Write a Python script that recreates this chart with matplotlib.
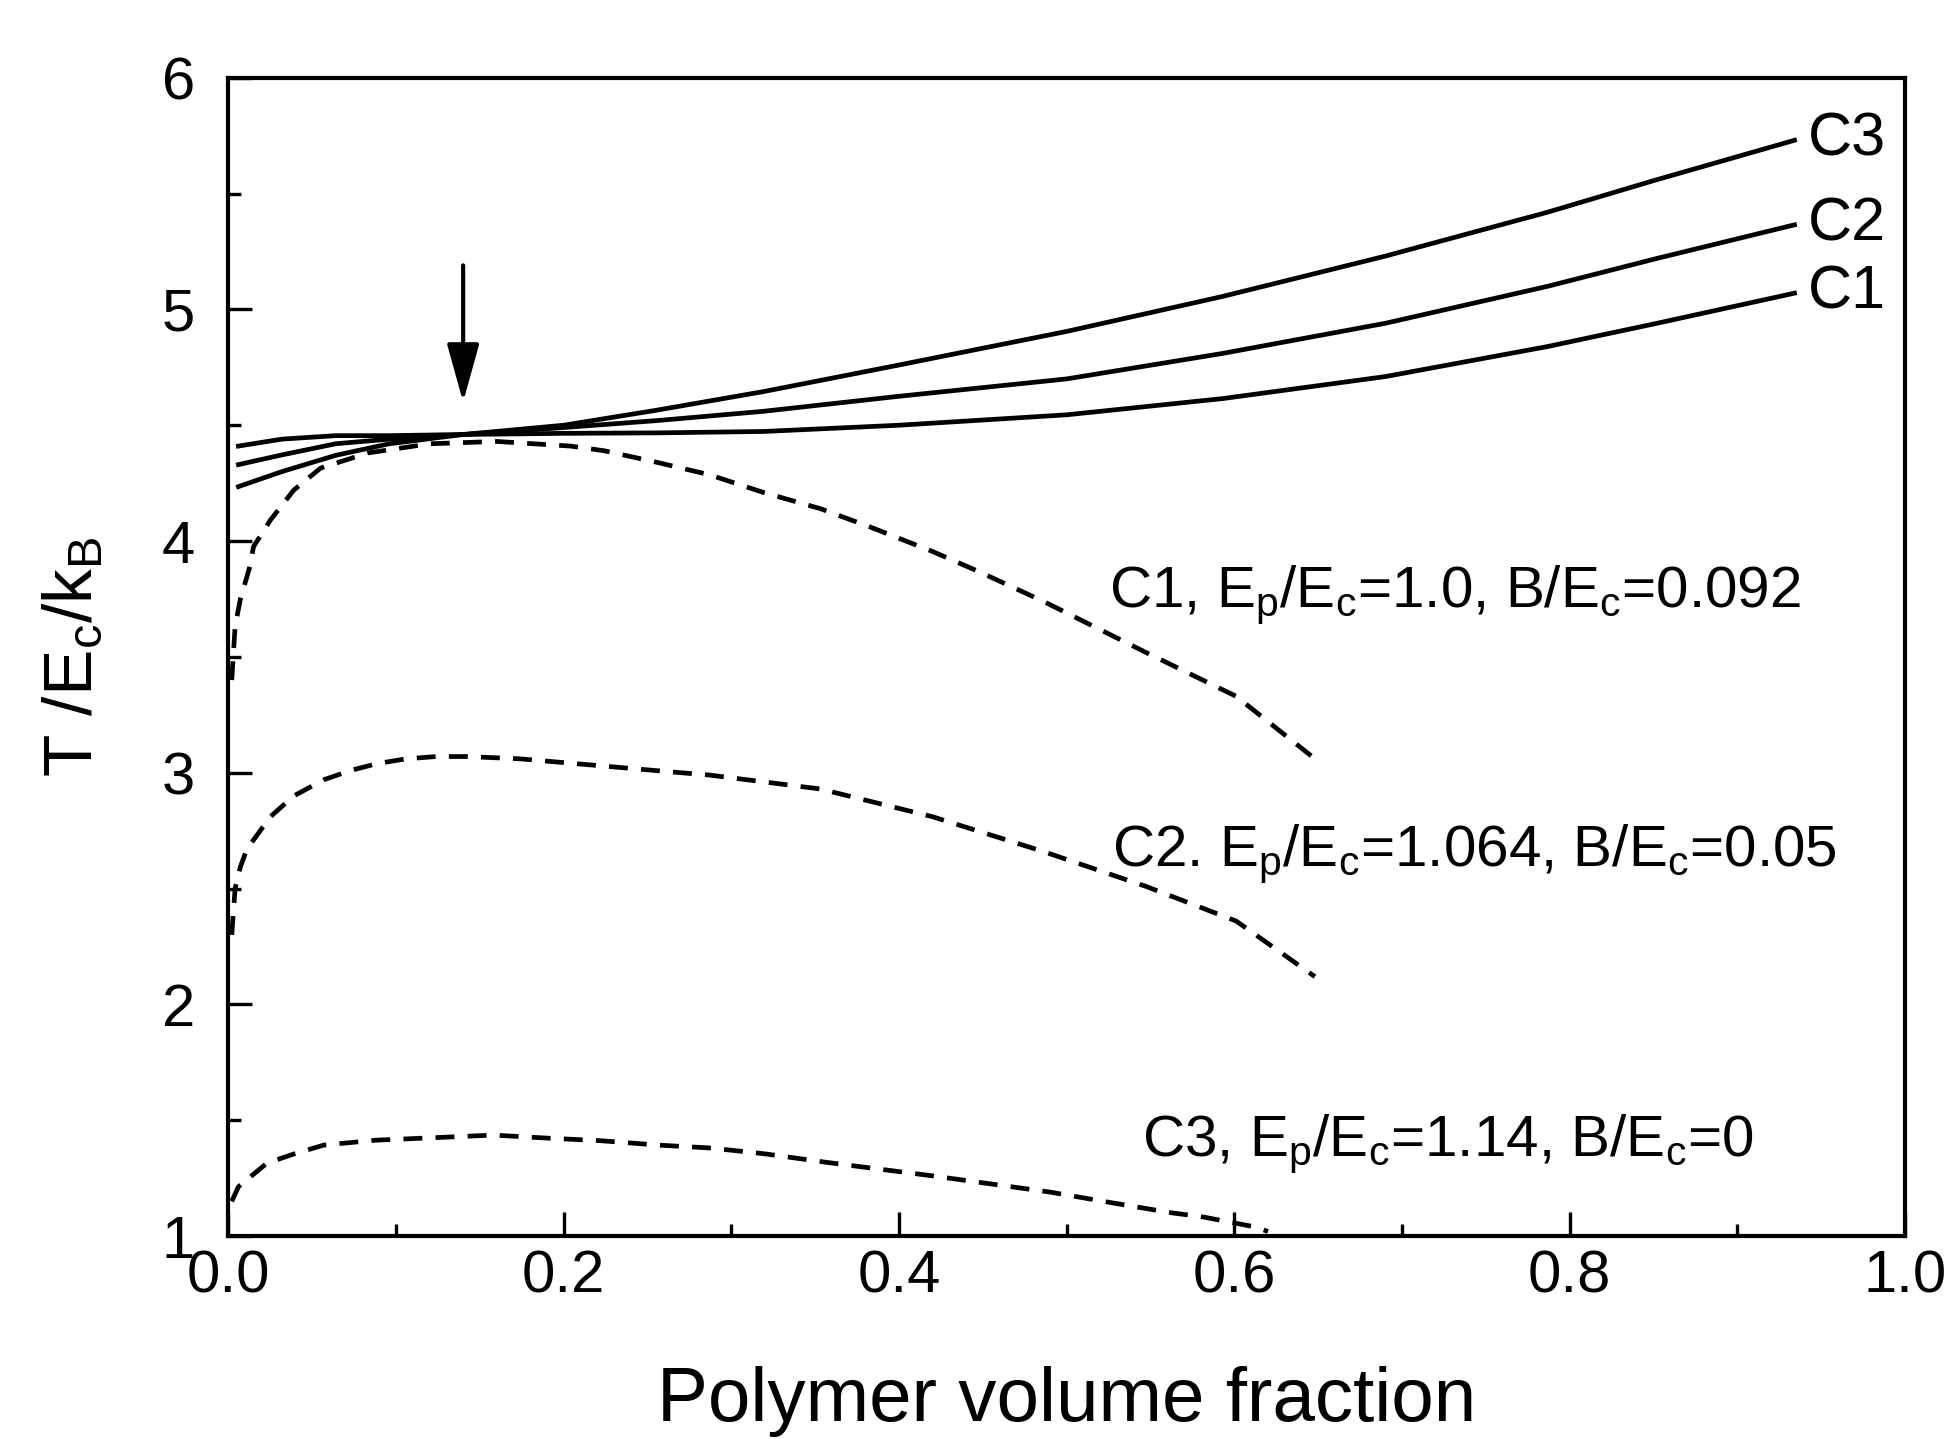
import matplotlib.pyplot as plt
import numpy as np

plt.rcParams['font.family'] = ['Liberation Sans', 'DejaVu Sans']
plt.rcParams['mathtext.default'] = 'regular'

# solid curves (C1, C2, C3)
x_sol = [0.006, 0.032, 0.064, 0.096, 0.14, 0.2, 0.2555, 0.319, 0.4, 0.5,
         0.593, 0.69, 0.787, 0.852, 0.934]
c1_sol = [4.41, 4.44, 4.455, 4.455, 4.46, 4.465, 4.467, 4.473, 4.50, 4.545,
          4.615, 4.71, 4.84, 4.94, 5.07]
c2_sol = [4.33, 4.372, 4.42, 4.44, 4.46, 4.49, 4.52, 4.56, 4.625, 4.70,
          4.81, 4.94, 5.10, 5.22, 5.365]
c3_sol = [4.235, 4.30, 4.37, 4.42, 4.46, 4.50, 4.565, 4.645, 4.76, 4.905,
          5.056, 5.23, 5.42, 5.56, 5.73]

# dashed curves
x_d1 = [0.002, 0.004, 0.007, 0.0128, 0.015, 0.025, 0.039, 0.055, 0.083, 0.12,
        0.16, 0.204, 0.224, 0.2555, 0.287, 0.319, 0.353, 0.383, 0.42, 0.447,
        0.486, 0.547, 0.601, 0.648]
c1_d = [3.4, 3.63, 3.745, 3.89, 3.976, 4.09, 4.22, 4.315, 4.38, 4.42,
        4.43, 4.41, 4.39, 4.34, 4.286, 4.21, 4.14, 4.06, 3.955, 3.87,
        3.74, 3.52, 3.33, 3.06]

x_d2 = [0.002, 0.004, 0.0072, 0.011, 0.025, 0.039, 0.057, 0.073, 0.089, 0.106,
        0.124, 0.142, 0.174, 0.206, 0.238, 0.27, 0.287, 0.353, 0.42, 0.486,
        0.547, 0.601, 0.648]
c2_d = [2.3, 2.5, 2.595, 2.67, 2.81, 2.90, 2.97, 3.01, 3.04, 3.06,
        3.07, 3.07, 3.06, 3.04, 3.02, 3.00, 2.99, 2.93, 2.81, 2.66,
        2.51, 2.36, 2.12]

x_d3 = [0.002, 0.006, 0.023, 0.0405, 0.057, 0.088, 0.12, 0.158, 0.19, 0.2216,
        0.256, 0.288, 0.32, 0.355, 0.384, 0.42, 0.45, 0.49, 0.53, 0.563,
        0.581, 0.612, 0.62]
c3_d = [1.15, 1.213, 1.315, 1.358, 1.393, 1.414, 1.424, 1.436, 1.423, 1.412,
        1.393, 1.38, 1.355, 1.32, 1.293, 1.26, 1.23, 1.19, 1.14, 1.10,
        1.083, 1.04, 1.02]

end_labels = ['C1', 'C2', 'C3']
params = ['C1, E$_p$/E$_c$=1.0, B/E$_c$=0.092',
          'C2. E$_p$/E$_c$=1.064, B/E$_c$=0.05',
          'C3, E$_p$/E$_c$=1.14, B/E$_c$=0']

fig = plt.figure(figsize=(19.52, 14.39), dpi=100)
ax = fig.add_axes([0.117, 0.141, 0.859, 0.805])

lw = 3.4
for ys in (c1_sol, c2_sol, c3_sol):
    ax.plot(x_sol, ys, color='black', lw=lw)
for xs, ys in ((x_d1, c1_d), (x_d2, c2_d), (x_d3, c3_d)):
    ax.plot(xs, ys, color='black', lw=lw, dashes=(4, 2.8))

# labels at the ends of the solid lines
for lab, ys in zip(end_labels, (c1_sol, c2_sol, c3_sol)):
    ax.text(x_sol[-1] + 0.008, ys[-1], lab, fontsize=44, va='center', ha='left')

# parameter texts
ax.text(0.525, 3.77, params[0], fontsize=42, va='center', ha='left')
ax.text(0.527, 2.65, params[1], fontsize=42, va='center', ha='left')
ax.text(0.545, 1.40, params[2], fontsize=42, va='center', ha='left')

# arrow
ax.annotate('', xy=(0.14, 4.60), xytext=(0.14, 5.19),
            arrowprops=dict(arrowstyle='-|>,head_length=0.9,head_width=0.25',
                            color='black', lw=3, mutation_scale=40,
                            shrinkA=0, shrinkB=0))

ax.set_xlim(0, 1)
ax.set_ylim(1, 6)
ax.set_xticks([0.0, 0.2, 0.4, 0.6, 0.8, 1.0])
ax.set_xticklabels(['0.0', '0.2', '0.4', '0.6', '0.8', '1.0'])
ax.set_yticks([1, 2, 3, 4, 5, 6])
ax.set_xticks(np.arange(0.1, 1.0, 0.2), minor=True)
ax.set_yticks(np.arange(1.5, 6.0, 1.0), minor=True)
ax.tick_params(which='major', direction='in', length=17, width=2.4,
               labelsize=43, top=False, right=False)
ax.tick_params(axis='x', which='major', pad=10)
ax.tick_params(axis='y', which='major', pad=24)
ax.tick_params(which='minor', direction='in', length=9, width=2.4,
               top=False, right=False)
for s in ax.spines.values():
    s.set_linewidth(3)

ax.set_xlabel('Polymer volume fraction', fontsize=55, labelpad=44)
ax.set_ylabel('T /E$_c$/k$_B$', fontsize=50, labelpad=40)

fig.savefig('out.png', dpi=100)
